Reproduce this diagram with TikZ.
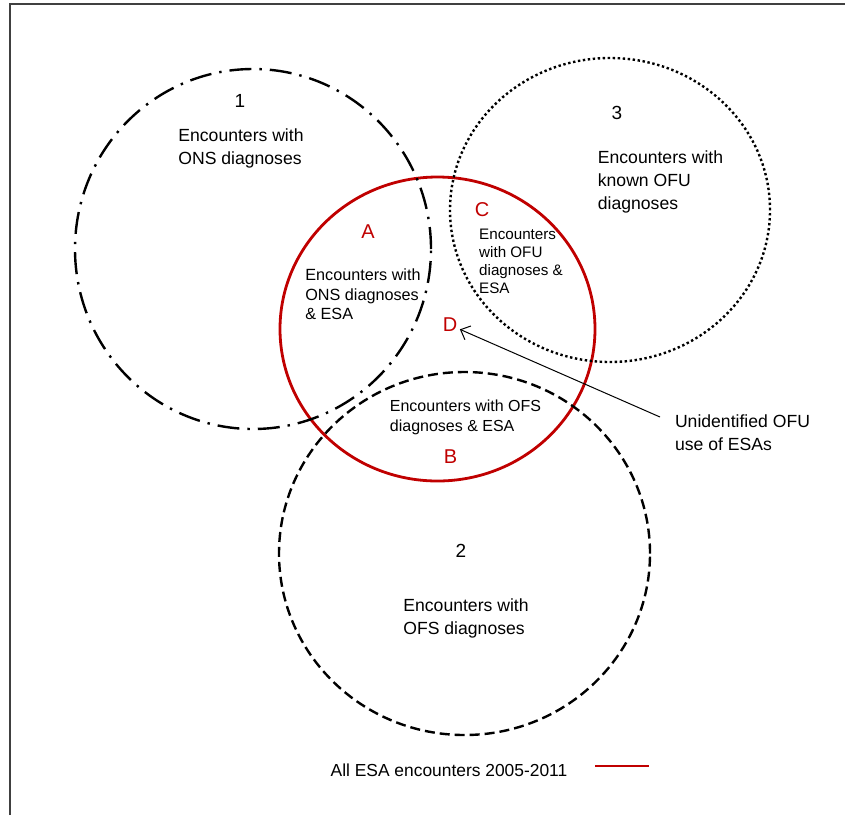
\documentclass[tikz,border=0pt]{standalone}
\usepackage{fontspec}
\setmainfont{Liberation Sans}
\usetikzlibrary{arrows.meta,shapes.geometric}
\definecolor{esared}{RGB}{192,0,0}
\definecolor{framegray}{RGB}{64,64,64}

\begin{document}
\begin{tikzpicture}[x=1pt,y=-1pt,
  set/.style={ellipse,draw,inner sep=0pt,line width=2.4pt},
  esaset/.style={set,draw=esared,line width=2.8pt},
  onsset/.style={set,dash pattern=on 22pt off 8pt on 2.4pt off 8pt},
  ofuset/.style={set,dash pattern=on 2.4pt off 2.6pt},
  ofsset/.style={set,dash pattern=on 10pt off 5pt},
  setnum/.style={font=\fontsize{19}{22}\selectfont},
  setlabel/.style={align=left,inner sep=0pt,font=\fontsize{17.6}{23}\selectfont},
  zonelabel/.style={align=left,inner sep=0pt,font=\fontsize{16.2}{19.5}\selectfont},
  zoneletter/.style={text=esared,inner sep=2.5pt,font=\fontsize{20}{22}\selectfont},
  pointer/.style={line width=1pt,-{Straight Barb[length=8pt,width=15pt,line width=1pt]}}]

% canvas and the frame lines along the top and left edges
\useasboundingbox (0,0) rectangle (845,815);
\draw[framegray,line width=2pt] (10,815) -- (10,4) -- (845,4);

% the four sets
\node[esaset,minimum width=315pt,minimum height=304pt] (esa) at (437.5,329) {};
\node[onsset,minimum width=356pt,minimum height=360pt] (ons) at (253,249) {};
\node[ofuset,minimum width=320pt,minimum height=304pt] (ofu) at (610,210) {};
\node[ofsset,minimum width=371pt,minimum height=363pt] (ofs) at (464.5,553.5) {};

% set numbers and descriptions
\node[setnum] (n1) at (240,101) {1};
\node[setnum] (n3) at (617,113) {3};
\node[setnum] (n2) at (461,551) {2};
\node[setlabel] (t1) at (241,148.5) {Encounters with\\ONS diagnoses};
\node[setlabel] (t3) at (660.5,181.5) {Encounters with\\known OFU\\diagnoses};
\node[setlabel] (t2) at (466,618.5) {Encounters with\\OFS diagnoses};

% overlap zones
\node[zoneletter] (A) at (368,232) {A};
\node[zoneletter] (C) at (482,210) {C};
\node[zoneletter] (D) at (450,325) {D};
\node[zoneletter] (B) at (450.5,456.5) {B};
\node[zonelabel] (tA) at (363,294.5) {Encounters with\\ONS diagnoses\\\& ESA};
\node[zonelabel,font=\fontsize{15.2}{18}\selectfont] (tC) at (521,261) {Encounters\\with OFU\\diagnoses \&\\ESA};
\node[zonelabel,font=\fontsize{16}{20}\selectfont] (tB) at (465.5,417) {Encounters with OFS\\diagnoses \& ESA};

% callout for zone D
\node[setlabel] (unid) at (742.5,432.5) {Unidentified OFU\\use of ESAs};
\coordinate (unidtail) at (660,417);
\draw[pointer] (unidtail) -- (D);

% legend
\node[font=\fontsize{17.4}{20}\selectfont,inner sep=0pt] (legend) at (449,770) {All ESA encounters 2005-2011};
\coordinate (keyL) at (595,766);
\coordinate (keyR) at (649,766);
\draw[esared,line width=2.8pt] (keyL) -- (keyR);
\end{tikzpicture}
\end{document}
